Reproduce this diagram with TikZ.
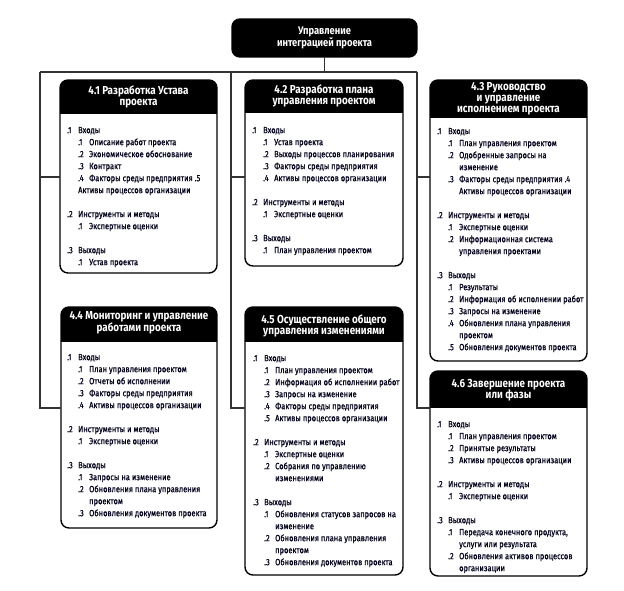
\documentclass[tikz,border=0pt]{standalone}
\usepackage{fontspec}
\setmainfont{Fira Sans}[FakeStretch=0.85]
\newfontfamily\bodyfont{Fira Sans}[FakeStretch=0.83, FakeBold=0.6]
\newcommand\nm[1]{\makebox[11pt][l]{#1}}
\newcommand\ind{\hspace*{11pt}}
\newcommand\fst{\rule{0pt}{9pt}}
\begin{document}
\begin{tikzpicture}[x=1pt,y=-1pt,
  frame/.style={draw=black, line width=1.4pt, rounded corners=8pt, anchor=north west, inner sep=0pt, outer sep=0pt},
  conn/.style={draw=black!80, line width=1.1pt},
  ttl/.style={text=white, font=\bfseries\fontsize{11.6}{11.5}\selectfont, align=center, inner sep=0pt},
  body/.style={anchor=north west, inner sep=0pt, align=left, text=black!90!blue, font=\bodyfont\fontsize{9}{12}\selectfont}]
\useasboundingbox (0,0) rectangle (624,591);

% #1 name, #2 x1, #3 y1, #4 x2, #5 y2, #6 header bottom
\newcommand\pbox[6]{%
  \begin{scope}
    \clip[rounded corners=8pt] (#2,#3) rectangle (#4,#5);
    \fill[black] (#2,#3) rectangle (#4,#6);
  \end{scope}
  \node[frame, minimum width=#4pt-#2pt, minimum height=#5pt-#3pt] (#1) at (#2,#3) {};
}

% top box
\pbox{top}{232}{19}{417}{57}{57}
\node[ttl, font=\bfseries\fontsize{11}{10.5}\selectfont] (toptitle) at (324.5,38) {Управление\\интеграцией проекта};

\pbox{b41}{60}{80}{217}{273}{114}
\node[ttl] (t41) at (138.5,97) {4.1 Разработка Устава\\проекта};
\node[body] (x41) at (67,124) {\fst\nm{.1}Входы\\
\ind\nm{.1}Описание работ проекта\\
\ind\nm{.2}Экономическое обоснование\\
\ind\nm{.3}Контракт\\
\ind\nm{.4}Факторы среды предприятия .5\\
\ind Активы процессов организации\\[12pt]
\nm{.2}Инструменты и методы\\
\ind\nm{.1}Экспертные оценки\\[12pt]
\nm{.3}Выходы\\
\ind\nm{.1}Устав проекта};

\pbox{b42}{245}{80}{403}{266}{113}
\node[ttl] (t42) at (324,96) {4.2 Разработка плана\\управления проектом};
\node[body] (x42) at (252,124) {\fst\nm{.1}Входы\\
\ind\nm{.1}Устав проекта\\
\ind\nm{.2}Выходы процессов планирования\\
\ind\nm{.3}Факторы среды предприятия\\
\ind\nm{.4}Активы процессов организации\\[12pt]
\nm{.2}Инструменты и методы\\
\ind\nm{.1}Экспертные оценки\\[12pt]
\nm{.3}Выходы\\
\ind\nm{.1}План управления проектом};

\pbox{b43}{430}{80}{587}{361}{118}
\node[ttl, font=\bfseries\fontsize{11.6}{10.8}\selectfont] (t43) at (508.5,99) {4.3 Руководство\\и управление\\исполнением проекта};
\node[body] (x43) at (437,125) {\fst\nm{.1}Входы\\
\ind\nm{.1}План управления проектом\\
\ind\nm{.2}Одобренные запросы на\\
\ind\ind изменение\\
\ind\nm{.3}Факторы среды предприятия .4\\
\ind\ind Активы процессов организации\\[12pt]
\nm{.2}Инструменты и методы\\
\ind\nm{.1}Экспертные оценки\\
\ind\nm{.2}Информационная система\\
\ind\ind управления проектами\\[12pt]
\nm{.3}Выходы\\
\ind\nm{.1}Результаты\\
\ind\nm{.2}Информация об исполнении работ\\
\ind\nm{.3}Запросы на изменение\\
\ind\nm{.4}Обновления плана управления\\
\ind\ind проектом\\
\ind\nm{.5}Обновления документов проекта};

\pbox{b44}{61}{307}{217}{528}{342}
\node[ttl] (t44) at (139,323) {4.4 Мониторинг и управление\\работами проекта};
\node[body] (x44) at (67,351) {\fst\nm{.1}Входы\\
\ind\nm{.1}План управления проектом\\
\ind\nm{.2}Отчеты об исполнении\\
\ind\nm{.3}Факторы среды предприятия\\
\ind\nm{.4}Активы процессов организации\\[12pt]
\nm{.2}Инструменты и методы\\
\ind\nm{.1}Экспертные оценки\\[12pt]
\nm{.3}Выходы\\
\ind\nm{.1}Запросы на изменение\\
\ind\nm{.2}Обновления плана управления\\
\ind\ind проектом\\
\ind\nm{.3}Обновления документов проекта};

\pbox{b45}{245}{307}{403}{575}{342}
\node[ttl] (t45) at (324,326) {4.5 Осуществление общего\\управления изменениями};
\node[body] (x45) at (253,352) {\fst\nm{.1}Входы\\
\ind\nm{.1}План управления проектом\\
\ind\nm{.2}Информация об исполнении работ\\
\ind\nm{.3}Запросы на изменение\\
\ind\nm{.4}Факторы среды предприятия\\
\ind\nm{.5}Активы процессов организации\\[12pt]
\nm{.2}Инструменты и методы\\
\ind\nm{.1}Экспертные оценки\\
\ind\nm{.2}Собрания по управлению\\
\ind\ind изменениями\\[12pt]
\nm{.3}Выходы\\
\ind\nm{.1}Обновления статусов запросов на\\
\ind\ind изменение\\
\ind\nm{.2}Обновления плана управления\\
\ind\ind проектом\\
\ind\nm{.3}Обновления документов проекта};

\pbox{b46}{430}{371}{587}{576}{408}
\node[ttl] (t46) at (508.5,390) {4.6 Завершение проекта\\или фазы};
\node[body] (x46) at (437,418) {\fst\nm{.1}Входы\\
\ind\nm{.1}План управления проектом\\
\ind\nm{.2}Принятые результаты\\
\ind\nm{.3}Активы процессов организации\\[12pt]
\nm{.2}Инструменты и методы\\
\ind\nm{.1}Экспертные оценки\\[12pt]
\nm{.3}Выходы\\
\ind\nm{.1}Передача конечного продукта,\\
\ind\ind услуги или результата\\
\ind\nm{.2}Обновления активов процессов\\
\ind\ind организации};

% connectors
\coordinate (jL) at (40,72);
\coordinate (jM) at (231,72);
\coordinate (jR) at (417,72);
\coordinate (r1) at (0,177);
\coordinate (r2) at (0,408);
\draw[conn] (top.south) -- (top.south |- jL);
\draw[conn] (jL) -- (jR);
\draw[conn] (jL) -- (jL |- r2) -- (b44.west |- r2);
\draw[conn] (jL |- r1) -- (b41.west |- r1);
\draw[conn] (jM) -- (jM |- r2) -- (b45.west |- r2);
\draw[conn] (jM |- r1) -- (b42.west |- r1);
\draw[conn] (jR) -- (jR |- r2) -- (b46.west |- r2);
\draw[conn] (jR |- r1) -- (b43.west |- r1);
\end{tikzpicture}
\end{document}
